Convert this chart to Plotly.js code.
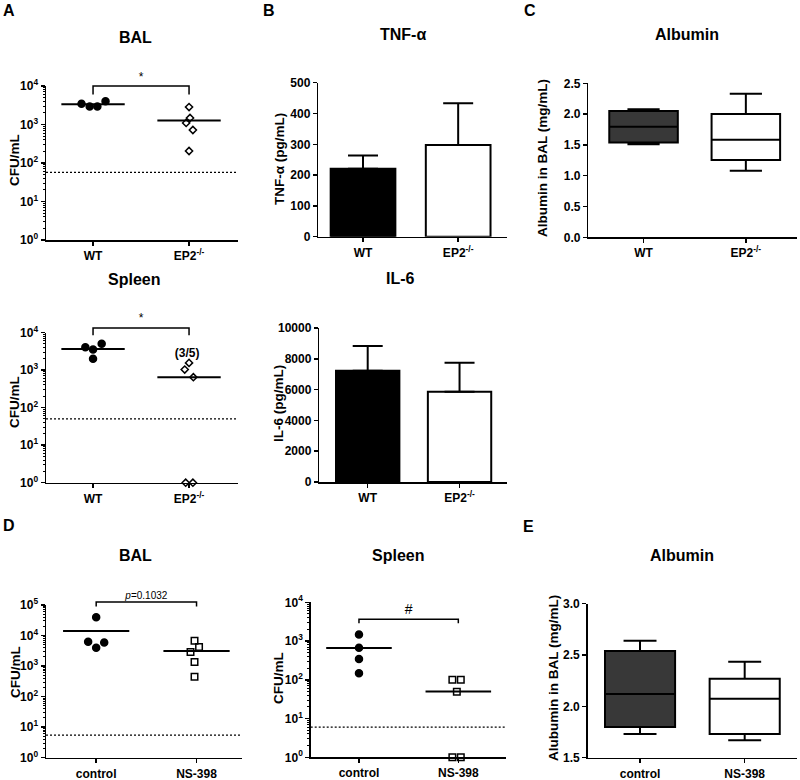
<!DOCTYPE html>
<html><head><meta charset="utf-8">
<script src="https://cdn.plot.ly/plotly-3.0.1.min.js"></script>
<style>body{margin:0;background:#fff}#chart{width:800px;height:780px}</style>
</head><body><div id="chart"></div>
<script>
// ---------- DATA ----------
const groupsA = ['WT', 'EP2<sup>-/-</sup>'];
const groupsD = ['control', 'NS-398'];
const logTickVals4 = [1, 10, 100, 1000, 10000];
const logTickText4 = ['10<sup>0</sup>', '10<sup>1</sup>', '10<sup>2</sup>', '10<sup>3</sup>', '10<sup>4</sup>'];
const logTickVals5 = [1, 10, 100, 1000, 10000, 100000];
const logTickText5 = ['10<sup>0</sup>', '10<sup>1</sup>', '10<sup>2</sup>', '10<sup>3</sup>', '10<sup>4</sup>', '10<sup>5</sup>'];

// Panel A - BAL CFU/mL
const balWT = [3470, 2950, 2950, 4000];
const balEP2 = [2840, 1480, 1100, 720, 205];
const balLimitA = 57;
// Panel A - Spleen CFU/mL
const spleenWT = [4070, 3550, 5000, 2000];
const spleenEP2 = [1550, 1030, 645, 1, 1];
const spleenLimitA = 50;
// Panel B
const tnfMean = [221, 298];
const tnfErr = [43, 135];
const il6Mean = [7230, 5860];
const il6Err = [1600, 1890];
// Panel C - albumin box stats
const albC_min = [1.51, 1.08];
const albC_q1 = [1.54, 1.255];
const albC_med = [1.795, 1.585];
const albC_q3 = [2.05, 2.0];
const albC_max = [2.08, 2.33];
// Panel D - BAL
const dBalControl = [40000, 6300, 4000, 5900];
const dBalNS = [6700, 4250, 2900, 1360, 445];
const balLimitD = 5.5;
// Panel D - Spleen
const dSpleenControl = [1480, 670, 345, 147];
const dSpleenNS = [100, 100, 49, 1, 1];
const spleenLimitD = 6;
// Panel E - albumin box stats
const albE_min = [1.73, 1.67];
const albE_q1 = [1.80, 1.73];
const albE_med = [2.12, 2.075];
const albE_q3 = [2.54, 2.27];
const albE_max = [2.64, 2.435];

// ---------- LAYOUT HELPERS (positions, not data) ----------
const jit = {
  balWT: [-0.12, -0.035, 0.045, 0.13],
  balEP2: [0, 0.01, -0.03, 0.04, 0],
  spWT: [-0.08, 0, 0.09, 0],
  spEP2: [0, -0.045, 0.045, -0.035, 0.04],
  dbC: [0, -0.08, 0, 0.08],
  dbN: [-0.02, 0.025, -0.06, -0.02, -0.02],
  dsC: [0, 0, 0, 0],
  dsN: [-0.06, 0.025, -0.015, -0.06, 0.025]
};
const W = 800, H = 780;
const xd = (a, b) => [a / W, b / W];
const yd = (top, bot) => [1 - bot / H, 1 - top / H];
const FONT = 'Liberation Sans, Arial, sans-serif';

const traces = [];
const layout = {
  width: W, height: H, margin: {l: 0, r: 0, t: 0, b: 0},
  paper_bgcolor: '#fff', plot_bgcolor: 'rgba(0,0,0,0)', showlegend: false,
  font: {family: FONT, color: '#000'},
  annotations: []
};

function axisBase() {
  return {showline: true, linecolor: '#000', linewidth: 1.5, ticks: 'outside', ticklen: 4,
    tickwidth: 1.5, tickcolor: '#000', showgrid: false, zeroline: false, fixedrange: true,
    tickfont: {family: FONT, size: 12, color: '#000', weight: 'bold'}};
}
function addAxes(n, xdom, ydom, xrange, labels, yopts) {
  const xs = n === 1 ? '' : n;
  const xa = Object.assign(axisBase(), {domain: xdom, range: xrange, anchor: 'y' + xs,
    tickmode: 'array', tickvals: [0, 1], ticktext: labels});
  const ya = Object.assign(axisBase(), {domain: ydom, anchor: 'x' + xs}, yopts);
  layout['xaxis' + xs] = xa;
  layout['yaxis' + xs] = ya;
  return {x: 'x' + xs, y: 'y' + xs};
}
// invisible companion log axis, same scale, extended upward so brackets above the axis top can be drawn
function addExt(id, xId, topPx, botPx, logTop, extPx) {
  const perPx = logTop / (botPx - topPx);
  layout['yaxis' + id] = {domain: yd(topPx - extPx, botPx), type: 'log', range: [0, logTop + extPx * perPx],
    visible: false, anchor: xId, fixedrange: true, showgrid: false, zeroline: false};
  return {x: xId, y: 'y' + id};
}
function logOpts(top, vals, text) {
  return {type: 'log', range: [0, top], tickmode: 'array', tickvals: vals, ticktext: text,
    minor: {ticks: 'outside', ticklen: 2, tickwidth: 1, tickcolor: '#000', dtick: 'D1'}};
}
const mean = a => a.reduce((s, v) => s + v, 0) / a.length;

function dotGroup(ax, xc, vals, offs, symbol) {
  const size = symbol === 'circle' ? 7 : (symbol === 'diamond-open' ? 5.5 : 6.5);
  traces.push({type: 'scatter', mode: 'markers', xaxis: ax.x, yaxis: ax.y,
    x: vals.map((v, i) => xc + offs[i]), y: vals, cliponaxis: false, hoverinfo: 'skip',
    marker: {symbol: symbol, size: size, color: '#000', line: {color: '#000', width: 1.5}}});
  const m = mean(vals);
  traces.push({type: 'scatter', mode: 'lines', xaxis: ax.x, yaxis: ax.y,
    x: [xc - 0.33, xc + 0.33], y: [m, m], line: {color: '#000', width: 2}, hoverinfo: 'skip'});
}
function limitLine(ax, xr, lim) {
  traces.push({type: 'scatter', mode: 'lines', xaxis: ax.x, yaxis: ax.y, x: xr, y: [lim, lim],
    line: {color: '#000', width: 1.3, dash: '2px,2px'}, hoverinfo: 'skip'});
}
function bracket(ax, top, leg, label, labelY, size) {
  traces.push({type: 'scatter', mode: 'lines', xaxis: ax.x, yaxis: ax.y, x: [0, 0, 1, 1], y: [leg, top, top, leg],
    line: {color: '#000', width: 1.5}, cliponaxis: false, hoverinfo: 'skip'});
  traces.push({type: 'scatter', mode: 'text', xaxis: ax.x, yaxis: ax.y, x: [0.5], y: [labelY], text: [label],
    textfont: {family: FONT, size: size, color: '#000'}, cliponaxis: false, hoverinfo: 'skip'});
}
function ann(text, px, py, size, opts) {
  layout.annotations.push(Object.assign({text: text, x: px / W, y: 1 - py / H, xref: 'paper', yref: 'paper',
    showarrow: false, xanchor: 'center', yanchor: 'middle',
    font: {family: FONT, size: size, color: '#000', weight: 'bold'}}, opts || {}));
}

// ---------- Panel A BAL ----------
let ax = addAxes(1, xd(46, 238), yd(86, 240), [-0.49, 1.51], groupsA, logOpts(4, logTickVals4, logTickText4));
limitLine(ax, [-0.49, 1.51], balLimitA);
dotGroup(ax, 0, balWT, jit.balWT, 'circle');
dotGroup(ax, 1, balEP2, jit.balEP2, 'diamond-open');
let ex = addExt(9, 'x', 86, 240, 4, 30);
bracket(ex, 10000, 6000, '*', 16000, 12);

// ---------- Panel A Spleen ----------
ax = addAxes(2, xd(46, 238), yd(332.5, 482.7), [-0.49, 1.51], groupsA, logOpts(4, logTickVals4, logTickText4));
limitLine(ax, [-0.49, 1.51], spleenLimitA);
dotGroup(ax, 0, spleenWT, jit.spWT, 'circle');
dotGroup(ax, 1, spleenEP2, jit.spEP2, 'diamond-open');
ex = addExt(10, 'x2', 332.5, 482.7, 4, 30);
bracket(ex, 13200, 8500, '*', 23000, 12);
traces.push({type: 'scatter', mode: 'text', xaxis: ax.x, yaxis: ax.y, x: [0.98], y: [2750], text: ['(3/5)'],
  textfont: {family: FONT, size: 12, color: '#000', weight: 'bold'}, cliponaxis: false, hoverinfo: 'skip'});

// ---------- Panel B TNF ----------
ax = addAxes(3, xd(318.3, 506.7), yd(82.7, 236.7), [-0.47, 1.51], groupsA,
  {range: [0, 500], dtick: 100, tick0: 0});
[0, 1].forEach(i => traces.push({type: 'bar', xaxis: ax.x, yaxis: ax.y, x: [i], y: [tnfMean[i]], width: 0.68,
  marker: {color: i === 0 ? '#000' : '#fff', line: {color: '#000', width: 2}}, hoverinfo: 'skip',
  error_y: {type: 'data', symmetric: false, array: [tnfErr[i]], arrayminus: [0], color: '#000', thickness: 2, width: 15}}));

// ---------- Panel B IL-6 ----------
ax = addAxes(4, xd(319.3, 507.3), yd(328, 482), [-0.527, 1.52], groupsA,
  {range: [0, 10000], dtick: 2000, tick0: 0, tickformat: 'd'});
[0, 1].forEach(i => traces.push({type: 'bar', xaxis: ax.x, yaxis: ax.y, x: [i], y: [il6Mean[i]], width: 0.69,
  marker: {color: i === 0 ? '#000' : '#fff', line: {color: '#000', width: 2}}, hoverinfo: 'skip',
  error_y: {type: 'data', symmetric: false, array: [il6Err[i]], arrayminus: [0], color: '#000', thickness: 2, width: 15}}));

// ---------- Panel C Albumin ----------
ax = addAxes(5, xd(588.3, 797), yd(83.3, 237.3), [-0.54, 1.5], groupsA,
  {range: [0, 2.5], dtick: 0.5, tick0: 0, tickformat: '.1f'});
[0, 1].forEach(i => traces.push({type: 'box', xaxis: ax.x, yaxis: ax.y, x: [i], q1: [albC_q1[i]],
  median: [albC_med[i]], q3: [albC_q3[i]], lowerfence: [albC_min[i]], upperfence: [albC_max[i]],
  width: 0.67, whiskerwidth: 0.47, boxpoints: false, fillcolor: i === 0 ? '#383838' : '#fff',
  line: {color: '#000', width: 2}, hoverinfo: 'skip'}));

// ---------- Panel D BAL ----------
ax = addAxes(6, xd(46, 241.7), yd(605, 757.7), [-0.5, 1.45], groupsD, logOpts(5, logTickVals5, logTickText5));
limitLine(ax, [-0.5, 1.45], balLimitD);
dotGroup(ax, 0, dBalControl, jit.dbC, 'circle');
dotGroup(ax, 1, dBalNS, jit.dbN, 'square-open');
ex = addExt(11, 'x6', 605, 757.7, 5, 30);
bracket(ex, 126000, 89000, '<i>p</i>=0.1032', 190000, 10);

// ---------- Panel D Spleen ----------
ax = addAxes(7, xd(310.7, 505.7), yd(602.3, 757.3), [-0.486, 1.477], groupsD, logOpts(4, logTickVals4, logTickText4));
limitLine(ax, [-0.486, 1.477], spleenLimitD);
dotGroup(ax, 0, dSpleenControl, jit.dsC, 'circle');
dotGroup(ax, 1, dSpleenNS, jit.dsN, 'square-open');
bracket(ax, 3630, 2880, '#', 6300, 14);

// ---------- Panel E Albumin ----------
ax = addAxes(8, xd(587.7, 796.7), yd(603.7, 757.7), [-0.5, 1.497], groupsD,
  {range: [1.5, 3.0], dtick: 0.5, tick0: 1.5, tickformat: '.1f'});
[0, 1].forEach(i => traces.push({type: 'box', xaxis: ax.x, yaxis: ax.y, x: [i], q1: [albE_q1[i]],
  median: [albE_med[i]], q3: [albE_q3[i]], lowerfence: [albE_min[i]], upperfence: [albE_max[i]],
  width: 0.67, whiskerwidth: 0.47, boxpoints: false, fillcolor: i === 0 ? '#383838' : '#fff',
  line: {color: '#000', width: 2}, hoverinfo: 'skip'}));

// ---------- Text ----------
ann('A', 9, 11, 16); ann('B', 269, 11, 16); ann('C', 530, 11, 16);
ann('D', 9, 525, 16); ann('E', 528, 526, 16);
ann('BAL', 135, 37, 16); ann('Spleen', 134, 279, 16);
ann('TNF-α', 403, 35, 16); ann('IL-6', 400, 278, 16);
ann('Albumin', 687, 35, 16);
ann('BAL', 135, 555, 16); ann('Spleen', 398, 555, 16); ann('Albumin', 682, 555, 16);
const rot = {textangle: -90};
ann('CFU/mL', 15, 160, 13.5, rot);
ann('CFU/mL', 15, 402, 13.5, rot);
ann('TNF-α (pg/mL)', 280, 159, 13.5, rot);
ann('IL-6 (pg/mL)', 278, 404, 13.5, rot);
ann('Albumin in BAL (mg/mL)', 543, 158, 13.5, rot);
ann('CFU/mL', 15, 672, 13.5, rot);
ann('CFU/mL', 278, 678, 13.5, rot);
ann('Alubumin in BAL (mg/mL)', 553, 678, 13.5, rot);

Plotly.newPlot('chart', traces, layout, {staticPlot: true, displayModeBar: false});
</script>
</body></html>
